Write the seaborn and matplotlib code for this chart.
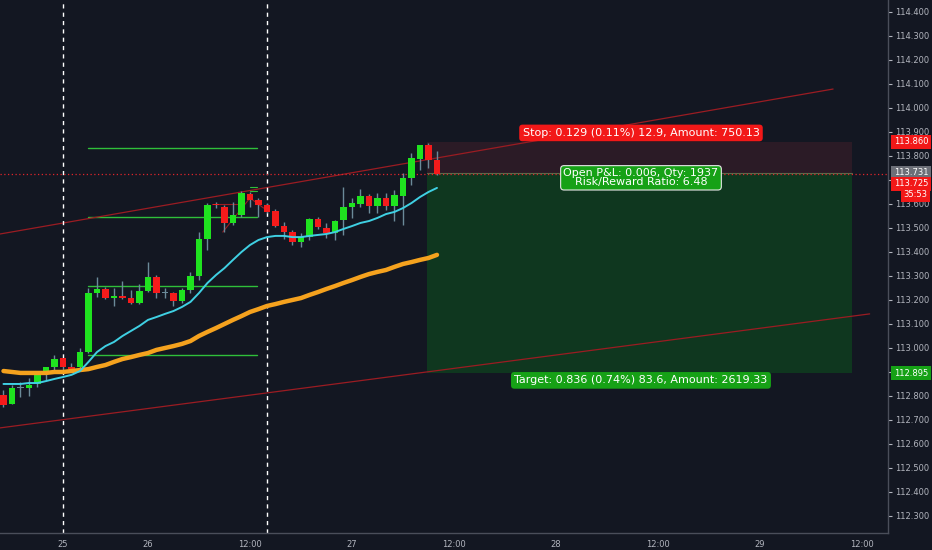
# hourly candles with position tool overlay, tradingview dark look

import numpy as np
import pandas as pd
import seaborn as sns
import matplotlib.pyplot as plt

# bars are hourly, hour 0 = day 26 00:00
bar_hours = list(range(-17, 35))
opens = [112.804, 112.767, 112.835, 112.833, 112.850, 112.892, 112.921, 112.958, 112.921, 112.921,
         112.983, 113.229, 113.246, 113.208, 113.217, 113.208, 113.1875, 113.2375, 113.296, 113.229,
         113.229, 113.196, 113.242, 113.300, 113.454, 113.598, 113.5875, 113.521, 113.554, 113.642,
         113.617, 113.596, 113.571, 113.508, 113.483, 113.442, 113.4625, 113.5375, 113.500, 113.479,
         113.533, 113.5875, 113.600, 113.633, 113.592, 113.625, 113.592, 113.633, 113.708, 113.7875,
         113.846, 113.783]
highs = [112.825, 112.846, 112.858, 112.875, 112.893, 112.922, 112.970, 112.960, 112.9375, 113.000,
         113.250, 113.296, 113.254, 113.250, 113.279, 113.242, 113.267, 113.358, 113.304, 113.250,
         113.233, 113.250, 113.317, 113.483, 113.604, 113.608, 113.596, 113.608, 113.654, 113.650,
         113.625, 113.604, 113.579, 113.525, 113.492, 113.479, 113.542, 113.546, 113.521, 113.533,
         113.671, 113.625, 113.6625, 113.642, 113.646, 113.646, 113.658, 113.729, 113.8125, 113.846,
         113.854, 113.821]
lows = [112.754, 112.765, 112.796, 112.800, 112.838, 112.867, 112.908, 112.900, 112.900, 112.917,
        112.980, 113.2125, 113.205, 113.175, 113.205, 113.183, 113.185, 113.235, 113.208, 113.208,
        113.175, 113.1875, 113.229, 113.283, 113.408, 113.583, 113.483, 113.5125, 113.546, 113.5875,
        113.546, 113.5625, 113.504, 113.454, 113.429, 113.421, 113.450, 113.496, 113.458, 113.450,
        113.471, 113.542, 113.5875, 113.5625, 113.5625, 113.575, 113.529, 113.5125, 113.679, 113.742,
        113.750, 113.721]
closes = [112.763, 112.833, 112.838, 112.846, 112.892, 112.921, 112.954, 112.921, 112.9125, 112.983,
          113.229, 113.246, 113.208, 113.217, 113.208, 113.1875, 113.2375, 113.296, 113.229, 113.231,
          113.196, 113.242, 113.300, 113.454, 113.596, 113.594, 113.521, 113.554, 113.646, 113.617,
          113.596, 113.567, 113.508, 113.483, 113.442, 113.4625, 113.5375, 113.504, 113.479, 113.529,
          113.5875, 113.604, 113.633, 113.592, 113.625, 113.592, 113.6375, 113.708, 113.792, 113.846,
          113.783, 113.725]
ema_fast = [112.850, 112.850, 112.850, 112.854, 112.854, 112.862, 112.871, 112.879, 112.888, 112.904,
            112.942, 112.983, 113.008, 113.025, 113.050, 113.071, 113.092, 113.117, 113.129, 113.142,
            113.154, 113.171, 113.192, 113.229, 113.271, 113.304, 113.333, 113.367, 113.400, 113.429,
            113.450, 113.462, 113.467, 113.467, 113.462, 113.462, 113.467, 113.471, 113.475, 113.483,
            113.496, 113.508, 113.521, 113.529, 113.542, 113.558, 113.567, 113.583, 113.604, 113.629,
            113.650, 113.667]
ema_slow = [112.904, 112.900, 112.896, 112.896, 112.896, 112.896, 112.900, 112.900, 112.904, 112.908,
            112.912, 112.921, 112.929, 112.942, 112.954, 112.962, 112.971, 112.979, 112.992, 113.000,
            113.008, 113.017, 113.029, 113.050, 113.067, 113.083, 113.100, 113.117, 113.133, 113.150,
            113.162, 113.175, 113.183, 113.192, 113.200, 113.208, 113.221, 113.233, 113.246, 113.258,
            113.271, 113.283, 113.296, 113.308, 113.317, 113.325, 113.338, 113.350, 113.358, 113.367,
            113.375, 113.388]

time_ticks = [-10, 0, 12, 24, 36, 48, 60, 72, 84]
time_labels = ["25", "26", "12:00", "27", "12:00", "28", "12:00", "29", "12:00"]
price_ticks = [112.3, 112.4, 112.5, 112.6, 112.7, 112.8, 112.9, 113.0, 113.1,
               113.2, 113.3, 113.4, 113.5, 113.6, 113.7, 113.8, 113.9, 114.0,
               114.1, 114.2, 114.3, 114.4]
hidden_ticks = [112.9, 113.7]   # covered by the price badges

entry_price = 113.731
stop_price = 113.860
target_price = 112.895
last_price = 113.725
position_span = [32.8, 82.8]
level_prices = [113.833, 113.546, 113.258, 112.971]
level_span = [-7.0, 12.8]
upper_line_x = [-17.4, 80.6]
upper_line_y = [113.475, 114.079]
lower_line_x = [-17.4, 84.9]
lower_line_y = [112.667, 113.142]
session_breaks = [-10, 14]
pattern_x = [8.8, 12.0, 13.6]
pattern_y = [113.483, 113.625, 113.583]

bg = "#131722"
up_col = "#1fe31f"
down_col = "#f51b1b"
wick_col = "#6b8a99"
txt_col = "#b2b5be"

sns.set_theme(style="dark", rc={"axes.facecolor": bg, "figure.facecolor": bg})
plt.rcParams['font.family'] = ['DejaVu Sans']

fig = plt.figure(figsize=(9.32, 5.5), dpi=100)
ax = fig.add_axes([0, 17 / 550, 888 / 932, 533 / 550])

# position tool zones
ax.fill_between(position_span, entry_price, stop_price, color="#2b1b26", zorder=1, lw=0)
ax.fill_between(position_span, target_price, entry_price, color="#0f371f", zorder=1, lw=0)
ax.plot(position_span, [entry_price, entry_price], color="#5b6a4a", lw=0.8, zorder=1.5)

# drawings
for lp in level_prices:
    ax.plot(level_span, [lp, lp], color="#2fbf3a", lw=1.0, zorder=2)
ax.plot(upper_line_x, upper_line_y, color="#9b1c22", lw=0.9, zorder=2)
ax.plot(lower_line_x, lower_line_y, color="#9b1c22", lw=0.9, zorder=2)
ax.plot(pattern_x, pattern_y, color="#9b1c22", lw=0.8, zorder=2)
ax.plot([7.5, 11.1], [113.600, 113.600], color="#9b1c22", lw=0.8, zorder=2)
ax.plot([12.0, 12.8], [113.671, 113.671], color="#2fbf3a", lw=0.8, zorder=2)
ax.plot([12.0, 12.8], [113.654, 113.654], color="#2fbf3a", lw=0.8, zorder=2)
for sb in session_breaks:
    ax.axvline(sb, color="white", lw=1.0, ls=(0, (3, 3)), zorder=2)
ax.axhline(last_price, color="#e0252b", lw=0.9, ls=(0, (1, 2)), zorder=2)

# candles
df = pd.DataFrame({"hour": bar_hours, "open": opens, "high": highs, "low": lows,
                   "close": closes, "ema_fast": ema_fast, "ema_slow": ema_slow})
ax.vlines(df["hour"], df["low"], df["high"], color=wick_col, lw=1.0, zorder=3)
body_low = np.minimum(df["open"], df["close"])
body_h = np.abs(df["close"] - df["open"])
colors = []
for o, c in zip(df["open"], df["close"]):
    if abs(c - o) < 0.004:
        colors.append(wick_col)
    elif c > o:
        colors.append(up_col)
    else:
        colors.append(down_col)
ax.bar(df["hour"], np.maximum(body_h, 0.003), bottom=body_low, width=0.72,
       color=colors, lw=0, zorder=4)

# moving averages
sns.lineplot(data=df, x="hour", y="ema_slow", color="#f5a21e", lw=3.2, ax=ax, zorder=5)
sns.lineplot(data=df, x="hour", y="ema_fast", color="#3fd0e3", lw=1.4, ax=ax, zorder=5)

ax.set_xlim(-17.41, 87.06)
ax.set_ylim(112.229, 114.45)
ax.set_xlabel("")
ax.set_ylabel("")
ax.grid(False)

ax.yaxis.tick_right()
ax.set_yticks(price_ticks)
ax.set_yticklabels(["" if p in hidden_ticks else f"{p:.3f}" for p in price_ticks])
ax.set_xticks(time_ticks)
ax.set_xticklabels(time_labels)
ax.tick_params(axis="y", colors=txt_col, labelsize=6, length=3, width=0.8, pad=2, direction="out")
ax.tick_params(axis="x", colors=txt_col, labelsize=6, length=3, width=0.8, pad=2, direction="out")
for side in ["top", "left"]:
    ax.spines[side].set_visible(False)
for side in ["right", "bottom"]:
    ax.spines[side].set_visible(True)
    ax.spines[side].set_color("#4a4e5a")
    ax.spines[side].set_linewidth(1.0)

# position tool labels
mid_x = 58.0
ax.text(mid_x, 113.896, "Stop: 0.129 (0.11%) 12.9, Amount: 750.13", ha="center", va="center",
        fontsize=8, color="white", zorder=8,
        bbox=dict(boxstyle="round,pad=0.3,rounding_size=0.3", fc="#f21818", ec="none"))
ax.text(mid_x, entry_price - 0.022, "Open P&L: 0.006, Qty: 1937\nRisk/Reward Ratio: 6.48",
        ha="center", va="center", fontsize=8, color="white", zorder=8, linespacing=0.85,
        bbox=dict(boxstyle="round,pad=0.25,rounding_size=0.3", fc="#16a116", ec="#e8e8e8", lw=0.8))
ax.text(mid_x, target_price - 0.03, "Target: 0.836 (0.74%) 83.6, Amount: 2619.33", ha="center",
        va="center", fontsize=8, color="white", zorder=8,
        bbox=dict(boxstyle="round,pad=0.3,rounding_size=0.3", fc="#16a116", ec="none"))

# price scale badges
yt = ax.get_yaxis_transform()
badges = [(stop_price, "113.860", "#f21818"), (entry_price, "113.731", "#6c6f78"),
          (last_price - 0.04, "113.725", "#f21818"), (target_price, "112.895", "#16a116")]
for y, lab, fc in badges:
    ax.text(1.0065, y, lab, transform=yt, ha="left", va="center", fontsize=6,
            color="white", zorder=9, clip_on=False,
            bbox=dict(boxstyle="square,pad=0.3", fc=fc, ec="none"))
ax.text(1.031, last_price - 0.087, "35:53", transform=yt, ha="center", va="center", fontsize=6,
        color="white", zorder=9, clip_on=False,
        bbox=dict(boxstyle="square,pad=0.3", fc="#f21818", ec="none"))

fig.savefig("out.png", dpi=100, facecolor=bg)
